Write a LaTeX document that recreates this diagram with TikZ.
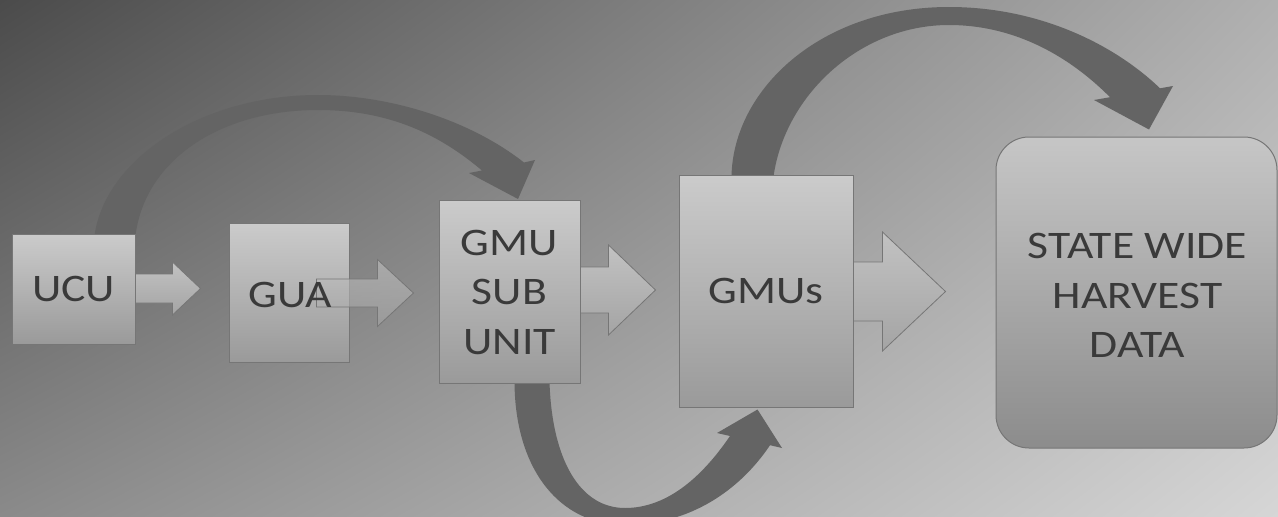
\documentclass[tikz,border=0pt]{standalone}
\usepackage{fontspec}
\setmainfont{Carlito}[FakeStretch=1.17]
\usetikzlibrary{calc,shadings}
\definecolor{arccol}{HTML}{646464}
\definecolor{txtcol}{HTML}{3A3A3A}
\definecolor{edgecol}{HTML}{767676}
\definecolor{boxtop}{HTML}{CBCBCB}
\definecolor{boxbot}{HTML}{9A9A9A}
\definecolor{arrtop}{HTML}{C2C2C2}
\definecolor{arrbot}{HTML}{A4A4A4}
\definecolor{stTop}{HTML}{C6C6C6}
\definecolor{stBot}{HTML}{8C8C8C}
\definecolor{bgUL}{HTML}{4B4B4B}
\definecolor{bgUR}{HTML}{B0B0B0}
\definecolor{bgLL}{HTML}{8A8A8A}
\definecolor{bgLR}{HTML}{D6D6D6}
\pgfdeclarelayer{bglayer}
\pgfdeclarelayer{midlayer}
\pgfsetlayers{bglayer,midlayer,main}
% block arrow: [opts] anchor, start dx, centre dy, head start dx, tip dx, shaft half, head half
\newcommand\blockarr[8][]{%
  \begin{scope}[shift={(#2)}]
    \path[blk,#1] (#3,#4-#7) -- (#5,#4-#7) -- (#5,#4-#8) -- (#6,#4) -- (#5,#4+#8) -- (#5,#4+#7) -- (#3,#4+#7) -- cycle;
  \end{scope}}
\begin{document}
\begin{tikzpicture}[x=1pt,y=-1pt,
  boxtext/.style={inner sep=0pt, align=center, text=txtcol, font=\fontsize{39}{49.5}\selectfont},
  box/.style={boxtext, draw=edgecol, line width=1pt, top color=boxtop, bottom color=boxbot},
  blk/.style={draw=edgecol, line width=0.8pt, top color=arrtop, bottom color=arrbot},
  curved/.style={fill=arccol}]
\useasboundingbox (0,0) rectangle (1278,517);
\clip (0,0) rectangle (1278,517);
\begin{pgfonlayer}{bglayer}
  \shade[upper left=bgUL, upper right=bgUR, lower left=bgLL, lower right=bgLR] (0,0) rectangle (1278,517);
\end{pgfonlayer}

% boxes
\node[box, minimum width=123pt, minimum height=110pt] (ucu) at (73.5,289) {UCU};
\node[box, minimum width=120pt, minimum height=139pt] (gua) at (289,292.5) {};
\node[box, minimum width=141pt, minimum height=183pt] (gsub) at (509.5,292) {GMU\\SUB\\UNIT};
\node[box, minimum width=174pt, minimum height=232pt] (gmus) at (766,291) {GMUs};
\node[box, rounded corners=33pt, top color=stTop, bottom color=stBot,
      minimum width=281pt, minimum height=311pt] (state) at (1136.5,292.5) {};
\node[boxtext] (statetxt) at ($(state.center)+(1,3)$) {STATE WIDE\\HARVEST\\DATA};

\begin{pgfonlayer}{midlayer}
  % straight block arrows
  \blockarr{ucu.east}{-3}{-0.5}{37}{65}{14.5}{26.5}
  \blockarr{gsub.east}{-3}{-2}{28}{75}{23}{45}
  \blockarr{gmus.east}{-3}{0.5}{29}{92}{29.5}{59.5}

  % curved arrow UCU -> GMU SUB UNIT
  \coordinate (a1o) at ($(ucu.north east)+(-41,2)$);
  \coordinate (a1i) at ($(ucu.north east)+(0,2)$);
  \coordinate (a1t) at ($(gsub.north)+(8.5,-1)$);
  \fill[curved] (a1o) .. controls (105,160) and (200,95) .. (318,95)
     .. controls (390,95) and (470,120) .. (524,162.5) -- (535,160) -- (a1t) -- (469,173) -- (482,170.5)
     .. controls (440,135) and (390,110) .. (318,110)
     .. controls (220,110) and (145,160) .. (a1i) -- cycle;

  % curved arrow GMUs -> STATE WIDE
  \coordinate (a2o) at ($(gmus.north west)+(53,2)$);
  \coordinate (a2i) at ($(gmus.north west)+(95,2)$);
  \coordinate (a2t) at ($(state.north)+(12.5,-7)$);
  \fill[curved] (a2o) .. controls (733,90) and (820,7) .. (949,7)
     .. controls (1040,7) and (1115,45) .. (1160,88.3) -- (1173,86) -- (a2t) -- (1094,100) -- (1110,97.2)
     .. controls (1065,52) and (1010,25) .. (949,25)
     .. controls (860,25) and (785,95) .. (a2i) -- cycle;

  % curved arrow GMU SUB UNIT -> GMUs
  \coordinate (a3o) at ($(gsub.south west)+(76,-2)$);
  \coordinate (a3i) at ($(gsub.south west)+(111,-2)$);
  \coordinate (a3t) at ($(gmus.south west)+(79,2)$);
  \fill[curved] (a3o) .. controls (515,470) and (560,525) .. (625,525)
     .. controls (690,525) and (740,490) .. (770,445.2) -- (782,448) -- (a3t) -- (717,433) -- (730,436)
     .. controls (700,480) and (665,508) .. (625,508)
     .. controls (580,508) and (552,460) .. (a3i) -- cycle;
\end{pgfonlayer}

% GUA arrow drawn over its box, label on top
\blockarr[fill opacity=0.6]{gua.east}{-33}{0.5}{28}{64}{14}{33.5}
\node[boxtext] (guatxt) at ($(gua.center)+(1,2)$) {GUA};
\end{tikzpicture}
\end{document}
